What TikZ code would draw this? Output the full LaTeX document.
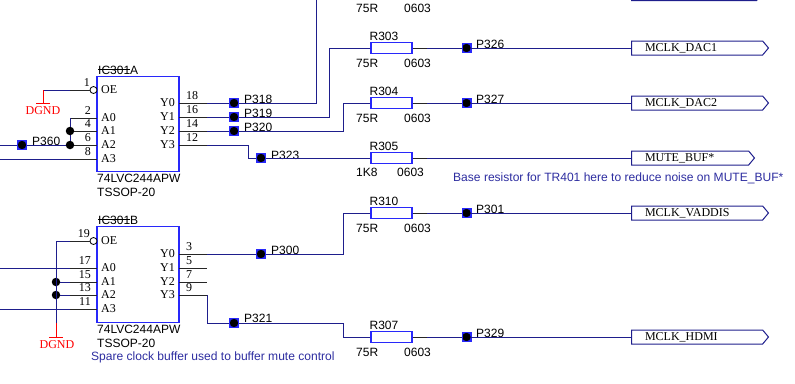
\documentclass[tikz,border=0pt]{standalone}
\usepackage{fontspec}
\setmainfont{Liberation Serif}
\newfontfamily\labelfont{Liberation Sans}
\usetikzlibrary{shapes.symbols}
\definecolor{netblue}{RGB}{30,30,140}
\definecolor{partblue}{RGB}{40,40,250}
\definecolor{noteblue}{RGB}{45,45,160}
\newcommand{\icstrike}[1]{\setbox0\hbox{#1}\rlap{\rule[.33em]{\wd0}{.7pt}}\box0}
\tikzset{
  wire/.style={draw=netblue,line width=1pt},
  stub/.style={draw=black!85,line width=1pt},
  redwire/.style={draw=red,line width=1pt},
  chip/.style={draw=partblue,line width=1.2pt,minimum width=82pt,minimum height=95.5pt,inner sep=0pt},
  res/.style={draw=partblue,line width=1.5pt,minimum width=41pt,minimum height=11pt,inner sep=0pt},
  testpt/.style={rectangle,draw=partblue,fill=partblue,line width=.4pt,minimum size=9pt,inner sep=0pt,
    path picture={\fill[black] (path picture bounding box.center) circle (4.2pt);}},
  junct/.style={circle,fill=black,minimum size=8.5pt,inner sep=0pt},
  bubble/.style={circle,draw=black,fill=white,line width=.8pt,minimum size=7pt,inner sep=0pt},
  sig/.style={signal,signal to=east,signal from=nowhere,signal pointer angle=100,draw=netblue,line width=1pt,
    minimum height=14pt,inner sep=0pt,text depth=0pt},
  pintext/.style={font=\fontsize{12}{14}\selectfont,inner sep=0pt},
  sanstext/.style={font=\labelfont\fontsize{12}{14}\selectfont,inner sep=0pt},
  notetext/.style={font=\labelfont\fontsize{12.05}{14}\selectfont,text=noteblue,inner sep=0pt},
  gndtext/.style={font=\fontsize{12}{14}\selectfont,text=red,inner sep=0pt},
}
\begin{document}
\begin{tikzpicture}[x=1pt,y=-1pt]
  \useasboundingbox (0,0) rectangle (795,383);
  \clip (0,0) rectangle (795,383);
  % buffers
  \node[chip] (icA) at (138,124) {};
  \node[chip] (icB) at (138,274.5) {};
  \node[sanstext,anchor=west] (icAname) at (98,70) {\icstrike{IC301}A};
  \node[sanstext,anchor=west] (icBname) at (98,220) {\icstrike{IC301}B};
  \node[sanstext,anchor=west] (icAtype) at (97,178) {74LVC244APW};
  \node[sanstext,anchor=west] (icApack) at (97,192) {TSSOP-20};
  \node[sanstext,anchor=west] (icBtype) at (97,329) {74LVC244APW};
  \node[sanstext,anchor=west] (icBpack) at (97,343) {TSSOP-20};
  % input pins
  \foreach \pnum/\py/\ptxt in {2/118/A0,4/131/A1,6/145/A2,8/159/A3,17/268/A0,15/282/A1,13/295/A2,11/309/A3}{
    \coordinate (pin\pnum) at (70,\py);
    \draw[stub] (pin\pnum) -- (97,\py);
    \node[pintext,anchor=east] (num\pnum) at (91,\py-7) {\pnum};
    \node[pintext,anchor=west] (txt\pnum) at (101,\py) {\ptxt};
  }
  % output pins
  \foreach \pnum/\py/\ptxt in {18/103/Y0,16/117/Y1,14/131/Y2,12/145/Y3,3/254/Y0,5/268/Y1,7/282/Y2,9/295/Y3}{
    \coordinate (pin\pnum) at (207,\py);
    \draw[stub] (179,\py) -- (pin\pnum);
    \node[pintext,anchor=west] (num\pnum) at (186,\py-7) {\pnum};
    \node[pintext,anchor=east] (txt\pnum) at (175,\py) {\ptxt};
  }
  % enable pins
  \foreach \pnum/\py in {1/90,19/241}{
    \coordinate (pin\pnum) at (70,\py);
    \node[bubble] (oe\pnum) at (93.5,\py) {};
    \draw[stub] (pin\pnum) -- (oe\pnum);
    \node[pintext,anchor=east] (num\pnum) at (90,\py-7) {\pnum};
    \node[pintext,anchor=west] (txt\pnum) at (101,\py) {OE};
  }
  % series resistors, test points and outgoing nets
  \foreach \rname/\pname/\ry/\rval/\rx/\nname/\nlen in {
      303/326/48/75R/404/MCLK\_DAC1/137,
      304/327/103/75R/404/MCLK\_DAC2/137,
      310/301/213/75R/404/MCLK\_VADDIS/137,
      307/329/337/75R/404/MCLK\_HDMI/137}{
    \node[res] (r\rname) at (391.5,\ry) {};
    \node[sanstext] (rn\rname) at (384,\ry-12) {R\rname};
    \node[sanstext,anchor=west] (rv\rname) at (356,\ry+15) {\rval};
    \node[sanstext,anchor=west] (rp\rname) at (\rx,\ry+15) {0603};
    \node[testpt] (p\pname) at (466.5,\ry) {};
    \node[sanstext,anchor=west] (pt\pname) at (476,\ry-3.5) {P\pname};
    \node[sig,minimum width=\nlen pt,text width=\nlen pt-21pt,align=left,anchor=west,
      font=\fontsize{12}{14}\selectfont] (n\pname) at (631,\ry) {\hspace*{6pt}\nname};
    \draw[wire] (r\rname.east) -- (p\pname) -- (n\pname.west);
    \draw[stub] (r\rname.east) -- ++(14,0);
    \draw[stub] (r\rname.west) -- ++(-14,0);
  }
  % R305 net has no test point
  \node[res] (r305) at (391.5,158) {};
  \node[sanstext] (rn305) at (384,146) {R305};
  \node[sanstext,anchor=west] (rv305) at (356,172) {1K8};
  \node[sanstext,anchor=west] (rp305) at (397,172) {0603};
  \node[sig,minimum width=123pt,text width=102pt,align=left,anchor=west,
    font=\fontsize{12}{14}\selectfont] (nmute) at (631,158) {\hspace*{6pt}MUTE\_BUF*};
  \draw[wire] (r305.east) -- (nmute.west);
  \draw[stub] (r305.east) -- ++(14,0);
  \draw[stub] (r305.west) -- ++(-14,0);
  % net running off the top
  \node[res] (rtop) at (391.5,-6) {};
  \node[sanstext,anchor=west] (rvtop) at (356,8) {75R};
  \node[sanstext,anchor=west] (rptop) at (404,8) {0603};
  \node[sig,minimum width=131pt,anchor=west] (ntop) at (631,-6.5) {};
  % test points on the buffer outputs
  \node[testpt] (p318) at (234,103) {};
  \node[testpt] (p319) at (234,117) {};
  \node[testpt] (p320) at (234,131) {};
  \node[testpt] (p323) at (261,158) {};
  \node[testpt] (p300) at (261,254) {};
  \node[testpt] (p321) at (234,323) {};
  \node[testpt] (p360) at (22,145) {};
  \node[sanstext,anchor=west] (pt318) at (244,99) {P318};
  \node[sanstext,anchor=west] (pt319) at (244,113) {P319};
  \node[sanstext,anchor=west] (pt320) at (244,127) {P320};
  \node[sanstext,anchor=west] (pt323) at (271,155) {P323};
  \node[sanstext,anchor=west] (pt300) at (271,250) {P300};
  \node[sanstext,anchor=west] (pt321) at (244,318) {P321};
  \node[sanstext,anchor=west] (pt360) at (32,141) {P360};
  % free ends
  \coordinate (topA) at (316,0);
  \coordinate (inA2) at (0,145);
  \coordinate (inA3) at (0,159);
  \coordinate (inB0) at (0,268);
  \coordinate (inB3) at (0,309);
  \coordinate (gndA) at (43,103);
  \coordinate (gndB) at (56,337);
  \coordinate (redB) at (56,323);
  % clock nets
  \draw[wire] (pin18) -- (p318) -- (316,103) -- (topA);
  \draw[wire] (pin16) -- (p319) -- (329,117) -- (329,48) -- (r303.west);
  \draw[wire] (pin14) -- (p320) -- (343,131) -- (343,103) -- (r304.west);
  \draw[wire] (pin12) -- (248,145) -- (248,158) -- (p323) -- (r305.west);
  \draw[wire] (pin3) -- (p300) -- (343,254) -- (343,213) -- (r310.west);
  \draw[wire] (pin9) -- (207,323) -- (p321) -- (343,323) -- (343,337) -- (r307.west);
  % inputs
  \draw[wire] (inA2) -- (p360) -- (pin6);
  \draw[wire] (inA3) -- (pin8);
  \draw[wire] (inB0) -- (pin17);
  \draw[wire] (inB3) -- (pin11);
  \draw[wire] (pin2) -- (pin6);
  \node[junct] (jA1) at (pin4) {};
  \node[junct] (jA2) at (pin6) {};
  % ground
  \node[junct] (jB1) at (56,282) {};
  \node[junct] (jB2) at (56,295) {};
  \draw[wire] (pin19) -- (56,241) -- (redB);
  \draw[wire] (jB1) -- (pin15);
  \draw[wire] (jB2) -- (pin13);
  \draw[redwire] (redB) -- (gndB);
  \draw[redwire] (49,337) -- (63,337);
  \node[gndtext] (dgndB) at (57,344.5) {DGND};
  \draw[wire] (pin1) -- (43,90);
  \draw[redwire] (43,90) -- (gndA);
  \draw[redwire] (36,103) -- (50,103);
  \node[gndtext] (dgndA) at (43,111) {DGND};
  % notes
  \node[notetext,anchor=west] (noteA) at (453,178) {Base resistor for TR401 here to reduce noise on MUTE\_BUF*};
  \node[notetext,anchor=west] (noteB) at (91,357) {Spare clock buffer used to buffer mute control};
\end{tikzpicture}
\end{document}
